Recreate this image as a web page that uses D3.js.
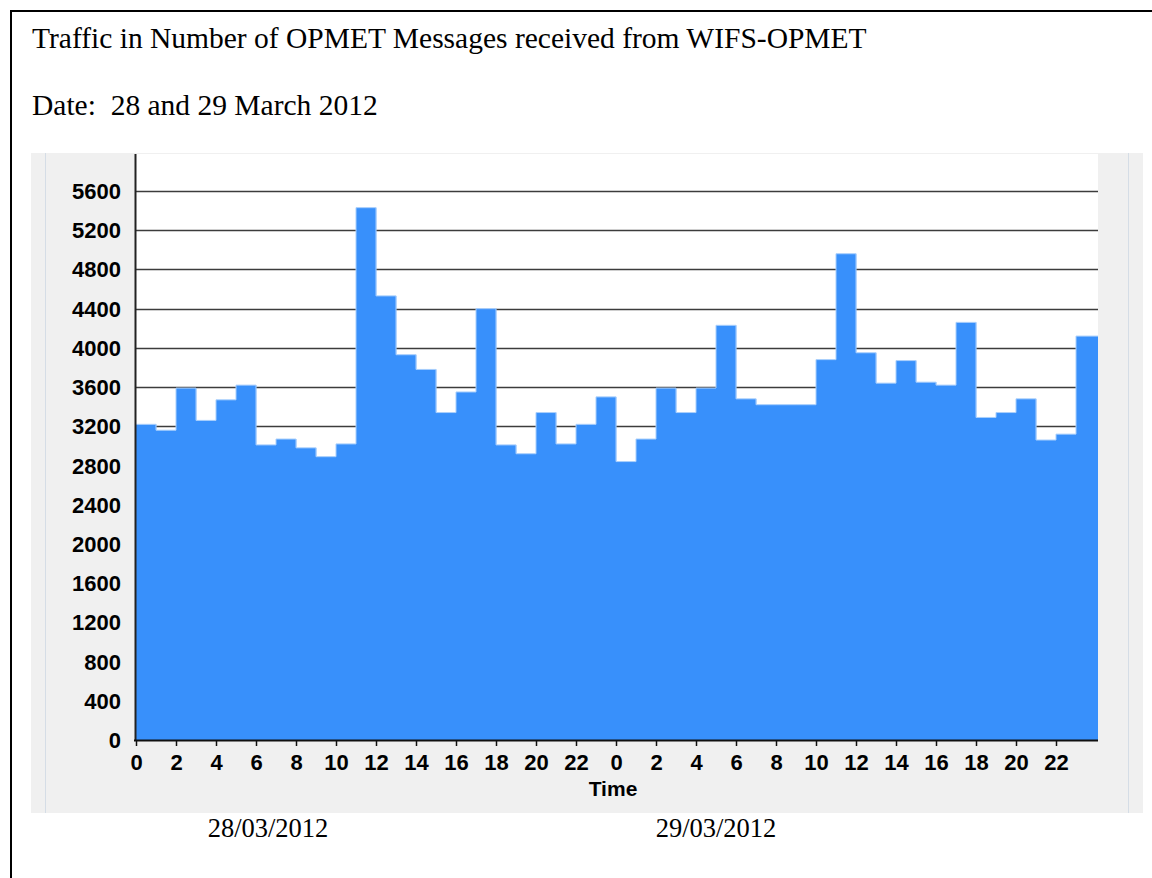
<!DOCTYPE html>
<html>
<head>
<meta charset="utf-8">
<script src="https://cdn.jsdelivr.net/npm/d3@7"></script>
<style>
  body { margin: 0; background: #fff; }
  svg text { fill: #000; }
</style>
</head>
<body>
<div id="chart"></div>
<script>
// hourly message counts
const day1Values = [3220, 3160, 3590, 3260, 3470, 3620, 3010, 3070, 2980, 2890, 3020, 5430,
                    4530, 3930, 3780, 3340, 3550, 4400, 3010, 2920, 3340, 3020, 3220, 3500];
const day2Values = [2840, 3070, 3590, 3340, 3590, 4230, 3480, 3420, 3420, 3420, 3880, 4960,
                    3950, 3640, 3870, 3650, 3620, 4260, 3290, 3340, 3480, 3060, 3120, 4120];
const hourTicks = [0, 2, 4, 6, 8, 10, 12, 14, 16, 18, 20, 22];
const yTicks = [0, 400, 800, 1200, 1600, 2000, 2400, 2800, 3200, 3600, 4000, 4400, 4800, 5200, 5600];
const dayLabels = ['28/03/2012', '29/03/2012'];
const titleText = 'Traffic in Number of OPMET Messages received from WIFS-OPMET';
const dateText = 'Date:  28 and 29 March 2012';

const W = 1152, H = 878;
const values = day1Values.concat(day2Values);

const svg = d3.select('#chart').append('svg')
    .attr('width', W)
    .attr('height', H);

// outer document frame
svg.append('path')
    .attr('d', `M11,${H} V11 H${W}`)
    .attr('fill', 'none')
    .attr('stroke', '#000')
    .attr('stroke-width', 2);

const serif = '"Liberation Serif", "Times New Roman", serif';
svg.append('text')
    .attr('x', 32).attr('y', 48)
    .style('font-family', serif)
    .style('font-size', '29.5px')
    .text(titleText);
svg.append('text')
    .attr('x', 32).attr('y', 115)
    .attr('xml:space', 'preserve')
    .style('white-space', 'pre')
    .style('font-family', serif)
    .style('font-size', '29.5px')
    .text(dateText);

// grey window panel
svg.append('rect')
    .attr('x', 31).attr('y', 153)
    .attr('width', 1112).attr('height', 660)
    .attr('fill', '#f0f0f0');
svg.append('line')
    .attr('x1', 45.5).attr('x2', 45.5).attr('y1', 153).attr('y2', 813)
    .attr('stroke', '#d5dde6');
svg.append('line')
    .attr('x1', 1128.5).attr('x2', 1128.5).attr('y1', 153).attr('y2', 813)
    .attr('stroke', '#d5dde6');

const x = d3.scaleLinear()
    .domain([0, 48])
    .range([136, 1096]);
const y = d3.scaleLinear()
    .domain([0, 5600])
    .range([740, 191]);

// plot area
svg.append('rect')
    .attr('x', 135).attr('y', 154)
    .attr('width', 963).attr('height', 586)
    .attr('fill', '#fff');

// grid
svg.append('g')
    .selectAll('line')
    .data(yTicks.filter(d => d > 0))
    .join('line')
    .attr('x1', 135).attr('x2', 1098)
    .attr('y1', d => Math.round(y(d)) + 0.5)
    .attr('y2', d => Math.round(y(d)) + 0.5)
    .attr('stroke', '#3c3c3c')
    .attr('stroke-width', 1.6);

// bars
svg.append('g')
    .selectAll('rect')
    .data(values)
    .join('rect')
    .attr('x', (d, i) => x(i))
    .attr('y', d => y(d))
    .attr('width', (d, i) => x(i + 1) - x(i) + (i === values.length - 1 ? 2 : 0.3))
    .attr('height', d => y(0) - y(d))
    .attr('fill', '#3890fb');

// light outline along the top of the bars
const step = d3.line()
    .x(d => d[0])
    .y(d => d[1])
    .curve(d3.curveStepAfter);
svg.append('path')
    .attr('d', step(values.map((d, i) => [x(i), y(d)]).concat([[x(48) + 2, y(values[47])]])))
    .attr('fill', 'none')
    .attr('stroke', '#a9cffc')
    .attr('stroke-width', 1);

// axes
const tickFont = g => g
    .style('font-family', '"Liberation Sans", Arial, sans-serif')
    .style('font-weight', 'bold')
    .style('font-size', '22px');

const yAxis = svg.append('g').call(tickFont);
yAxis.selectAll('text')
    .data(yTicks)
    .join('text')
    .attr('x', 121)
    .attr('y', d => y(d) + 8)
    .attr('text-anchor', 'end')
    .text(d => d);

svg.append('line')
    .attr('x1', 135.5).attr('x2', 135.5).attr('y1', 154).attr('y2', 741)
    .attr('stroke', '#222').attr('stroke-width', 2);
svg.append('line')
    .attr('x1', 134).attr('x2', 1098).attr('y1', 740.5).attr('y2', 740.5)
    .attr('stroke', '#111').attr('stroke-width', 2);

const xTickPos = d3.range(0, 48, 2);
const xAxis = svg.append('g').call(tickFont);
xAxis.selectAll('line')
    .data(xTickPos)
    .join('line')
    .attr('x1', d => Math.round(x(d)) + 0.5)
    .attr('x2', d => Math.round(x(d)) + 0.5)
    .attr('y1', 740).attr('y2', 746)
    .attr('stroke', '#111').attr('stroke-width', 1.5);
xAxis.selectAll('text')
    .data(xTickPos)
    .join('text')
    .attr('x', d => x(d) + 0.5)
    .attr('y', 770)
    .attr('text-anchor', 'middle')
    .text(d => hourTicks[(d % 24) / 2]);

svg.append('text')
    .attr('x', 613).attr('y', 796)
    .attr('text-anchor', 'middle')
    .style('font-family', '"Liberation Sans", Arial, sans-serif')
    .style('font-weight', 'bold')
    .style('font-size', '21px')
    .text('Time');

svg.append('g')
    .selectAll('text')
    .data(dayLabels)
    .join('text')
    .attr('x', (d, i) => [268, 716][i])
    .attr('y', 837)
    .attr('text-anchor', 'middle')
    .style('font-family', serif)
    .style('font-size', '26.5px')
    .text(d => d);
</script>
</body>
</html>
